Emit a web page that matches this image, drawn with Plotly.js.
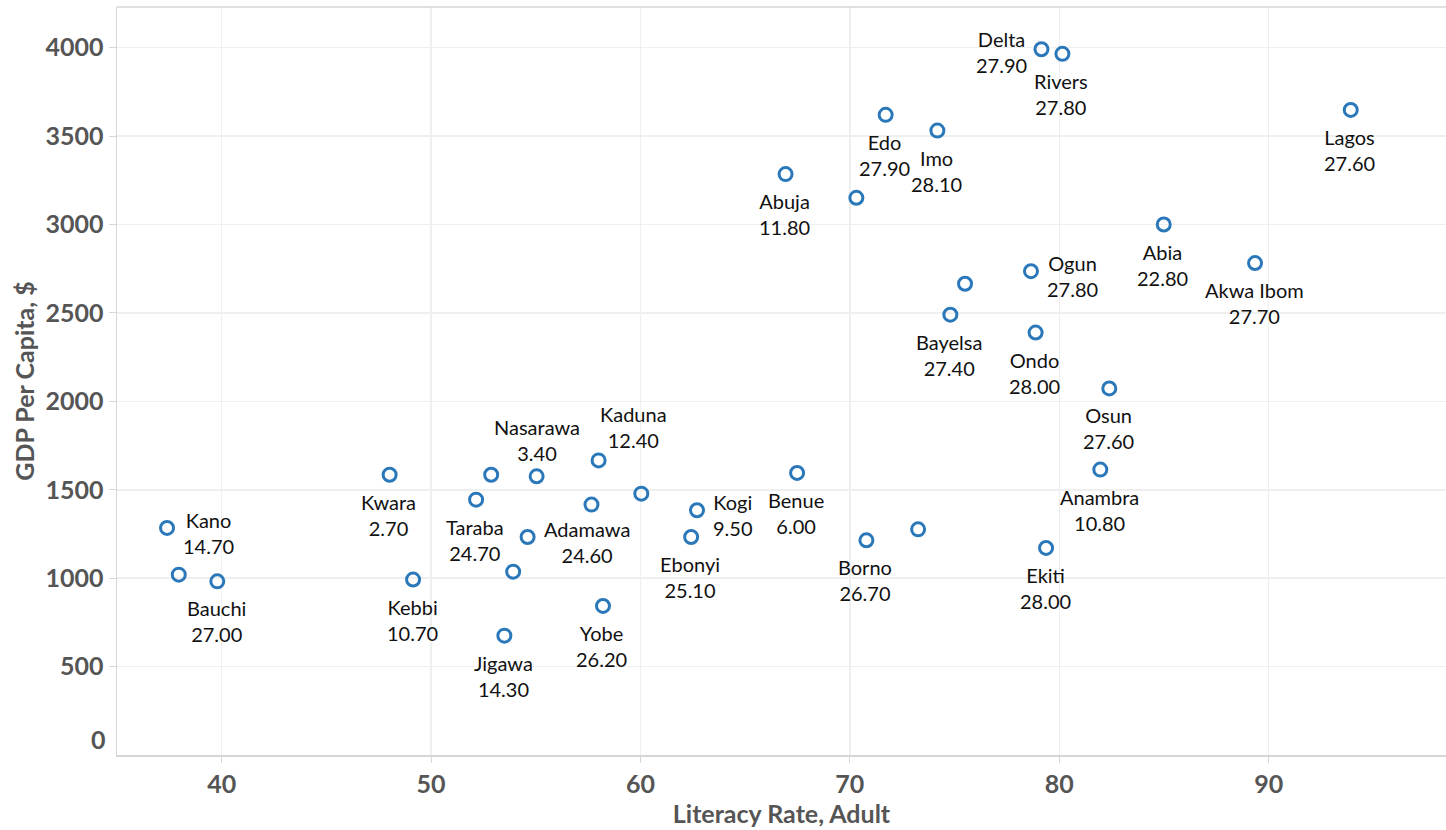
<!DOCTYPE html>
<html>
<head>
<meta charset="utf-8">
<script src="https://cdn.plot.ly/plotly-3.0.1.min.js"></script>
<style>
  html, body { margin: 0; padding: 0; background: #fff; }
  #chart { width: 1446px; height: 830px; }
</style>
</head>
<body>
<div id="chart"></div>
<script>
// State names (empty string = unlabelled mark)
const states = [
  "Kano", "", "Bauchi", "Kwara", "Kebbi", "Taraba", "", "Nasarawa", "Kaduna", "",
  "", "Kogi", "Benue", "Adamawa", "", "Ebonyi", "Yobe", "Jigawa", "Borno", "",
  "Delta", "Rivers", "Edo", "Imo", "Abuja", "", "Abia", "Ogun", "", "Bayelsa",
  "Ondo", "Osun", "Akwa Ibom", "Anambra", "Ekiti", "Lagos"
];
// Literacy Rate, Adult (x)
const literacy = [
  37.39, 37.95, 39.79, 48.02, 49.14, 52.15, 52.87, 55.04, 58.00, 57.66,
  60.04, 62.70, 67.48, 54.61, 53.92, 62.42, 58.21, 53.50, 70.79, 73.26,
  79.15, 80.15, 71.71, 74.18, 66.93, 70.31, 84.99, 78.65, 75.50, 74.80,
  78.87, 82.39, 89.35, 81.96, 79.37, 93.92
];
// GDP Per Capita, $ (y)
const gdp = [
  1284, 1020, 982, 1585, 992, 1444, 1585, 1576, 1666, 1416,
  1478, 1384, 1595, 1233, 1037, 1233, 843, 675, 1214, 1276,
  3991, 3965, 3620, 3531, 3285, 3151, 3000, 2736, 2665, 2490,
  2389, 2073, 2782, 1614, 1171, 3648
];
// Labelled measure shown under each name (null = no label)
const labelValue = [
  14.70, null, 27.00, 2.70, 10.70, 24.70, null, 3.40, 12.40, null,
  null, 9.50, 6.00, 24.60, null, 25.10, 26.20, 14.30, 26.70, null,
  27.90, 27.80, 27.90, 28.10, 11.80, null, 22.80, 27.80, null, 27.40,
  28.00, 27.60, 27.70, 10.80, 28.00, 27.60
];
// Tick values
const yTicks = [500, 1000, 1500, 2000, 2500, 3000, 3500, 4000];
const xTicks = [40, 50, 60, 70, 80, 90];

// label placement styles (not data)
const placement = {
  "Kano": "right", "Adamawa": "right", "Kogi": "right", "Ogun": "right",
  "Delta": "left", "Nasarawa": "top", "Kaduna": "topright"
};
const placeStyle = {
  bottom:   { xanchor: "center", yanchor: "top",    xshift: -1, yshift: -13 },
  right:    { xanchor: "left",   yanchor: "middle", xshift: 14, yshift: -5 },
  left:     { xanchor: "right",  yanchor: "middle", xshift: -12, yshift: -3 },
  top:      { xanchor: "center", yanchor: "bottom", xshift: 0, yshift: 9 },
  topright: { xanchor: "left",   yanchor: "bottom", xshift: -1, yshift: 6 }
};

const FONT = "Lato, 'Noto Sans', sans-serif";
const tickFont = { family: FONT, size: 25, color: "#555555", weight: 700 };
const titleFont = { family: FONT, size: 25, color: "#555555", weight: 700 };
const labelFont = { family: FONT, size: 20, color: "#111111" };

const labelAnnotations = [];
states.forEach((s, i) => {
  if (!s) return;
  const st = placeStyle[placement[s] || "bottom"];
  labelAnnotations.push({
    text: s + "<br>" + labelValue[i].toFixed(2),
    x: literacy[i], y: gdp[i], xref: "x", yref: "y",
    xanchor: st.xanchor, yanchor: st.yanchor,
    xshift: st.xshift, yshift: st.yshift,
    align: "center", showarrow: false, font: labelFont
  });
});

const trace = {
  type: "scatter",
  mode: "markers",
  x: literacy,
  y: gdp,
  text: states,
  marker: {
    symbol: "circle-open",
    size: 13,
    color: "#2a78b9",
    line: { width: 3, color: "#2a78b9" }
  },
  cliponaxis: false
};

const layout = {
  width: 1446,
  height: 830,
  margin: { l: 117, r: 0, t: 7, b: 74.5 },
  paper_bgcolor: "#ffffff",
  plot_bgcolor: "#ffffff",
  showlegend: false,
  xaxis: {
    range: [35.0, 98.47],
    tickvals: xTicks,
    ticktext: xTicks.map(String),
    showgrid: true,
    gridcolor: "#efefef",
    gridwidth: 1.5,
    zeroline: false,
    showline: true,
    linecolor: "#d6d6d6",
    linewidth: 1.5,
    ticks: "outside",
    ticklen: 6,
    tickcolor: "#d6d6d6",
    tickfont: tickFont,
    title: { text: "Literacy Rate, Adult", font: titleFont, standoff: 4 }
  },
  yaxis: {
    range: [0, 4230],
    tickvals: yTicks,
    ticktext: yTicks.map(String),
    showgrid: true,
    gridcolor: "#efefef",
    gridwidth: 1.5,
    zeroline: false,
    showline: true,
    linecolor: "#d6d6d6",
    linewidth: 1.5,
    ticks: "outside",
    ticklen: 7,
    tickcolor: "#d6d6d6",
    tickfont: tickFont,
    title: { text: "GDP Per Capita, $", font: titleFont, standoff: 3 }
  },
  shapes: [
    { type: "line", xref: "paper", yref: "paper", x0: 0, x1: 1, y0: 1, y1: 1,
      line: { color: "#d6d6d6", width: 1.5 } }
  ],
  annotations: [
    {
      text: "0", xref: "paper", yref: "y", x: 0, y: 0,
      xanchor: "right", yanchor: "middle", xshift: -9, yshift: 16,
      showarrow: false, font: tickFont
    }
  ].concat(labelAnnotations)
};

Plotly.newPlot("chart", [trace], layout, { displayModeBar: false, staticPlot: true });
</script>
</body>
</html>
